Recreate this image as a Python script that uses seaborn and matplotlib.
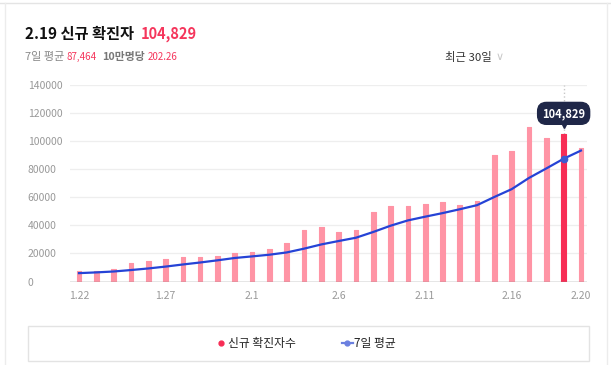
import numpy as np
import pandas as pd
import matplotlib
matplotlib.use('Agg')
import matplotlib.pyplot as plt
import matplotlib.transforms as mtransforms
from matplotlib.lines import Line2D
from matplotlib.patches import Rectangle
import seaborn as sns

# ── Data ───────────────────────────────────────────────────────────────────────
dates = ['1.22', '1.23', '1.24', '1.25', '1.26', '1.27', '1.28', '1.29', '1.30', '1.31',
         '2.1', '2.2', '2.3', '2.4', '2.5', '2.6', '2.7', '2.8', '2.9', '2.10',
         '2.11', '2.12', '2.13', '2.14', '2.15', '2.16', '2.17', '2.18', '2.19', '2.20']
new_cases = [7630, 7513, 8571, 13012, 14518, 16096, 17542, 17532, 18342, 20270,
             20908, 22907, 27443, 36362, 38689, 35286, 36719, 49567, 54122, 53926,
             54941, 56431, 54619, 57177, 90443, 93135, 109831, 102211, 104829, 95362]
avg_7d = [5963, 6486, 7129, 8158, 9289, 10621, 12126, 13541, 15088, 16759,
          17887, 19085, 20706, 23395, 26417, 28838, 31188, 35282, 39741, 43524,
          46179, 48713, 51475, 54398, 60237, 65810, 73797, 80550, 87464, 93284]
tick_dates = ['1.22', '1.27', '2.1', '2.6', '2.11', '2.16', '2.20']
y_ticks = [0, 20000, 40000, 60000, 80000, 100000, 120000, 140000]
sel_date = '2.19'

PINK = '#ff94a5'
RED = '#f72d55'
BLUE = '#2543d6'
NAVY = '#1f2748'
TXT_RED = '#f5365c'
GRAY = '#999999'

W, H = 611, 365
plt.rcParams['font.family'] = ['Noto Sans CJK KR', 'DejaVu Sans']

df = pd.DataFrame({'date': dates, 'cases': new_cases, 'avg': avg_7d})
df['pos'] = np.arange(len(df))
sel = dates.index(sel_date)

fig = plt.figure(figsize=(W / 100, H / 100), dpi=100)
ax = fig.add_axes([70 / W, 1 - 281.5 / H, 517 / W, 196.5 / H])

# bars
pal = {d: (RED if d == sel_date else PINK) for d in dates}
sns.barplot(data=df, x='date', y='cases', hue='date', order=dates, hue_order=dates,
            palette=pal, width=0.27, legend=False, saturation=1, ax=ax, zorder=2)
for p in ax.patches:
    p.set_edgecolor(p.get_facecolor())
    p.set_linewidth(0.8)
    p.set_joinstyle('round')

# 7-day average line
sns.lineplot(data=df, x='pos', y='avg', color=BLUE, linewidth=1.6, ax=ax, zorder=4)
ax.plot(sel, avg_7d[sel], 'o', color='#3d5bd0', markersize=4.5, zorder=5)

# hover guide + tooltip
ax.axvline(sel, ymin=new_cases[sel] / 140000, ymax=1, color='#c8c8c8',
           linestyle=':', linewidth=1, zorder=1)
ax.annotate(f'{new_cases[sel]:,}', xy=(sel, new_cases[sel]), xytext=(0, 21),
            textcoords='offset pixels', ha='center', va='center', color='white',
            fontsize=8, fontweight='bold', zorder=10,
            bbox=dict(boxstyle='round,pad=0.4,rounding_size=0.8', fc=NAVY, ec=NAVY))
tri = mtransforms.offset_copy(ax.transData, fig=fig, x=0, y=9, units='dots')
ax.plot(sel, new_cases[sel], marker='v', color=NAVY, markersize=5, transform=tri,
        clip_on=False, zorder=10)

# axes styling
ax.set_xlim(-0.52, 29.35)
ax.set_ylim(0, 140000)
ax.set_yticks(y_ticks)
ax.set_yticklabels([str(v) for v in y_ticks])
for lab in ax.get_yticklabels():
    lab.set_ha('left')
ax.set_xticks([dates.index(d) for d in tick_dates])
ax.set_xticklabels(tick_dates)
ax.tick_params(axis='y', length=0, pad=30.5, labelsize=7.5, labelcolor=GRAY)
ax.tick_params(axis='x', length=0, pad=6.5, labelsize=7.5, labelcolor=GRAY)
ax.grid(axis='y', color='#eeeeee', linewidth=0.9, zorder=0)
ax.set_axisbelow(True)
ax.axhline(0, color='#8c8c8c', linewidth=1, zorder=3)
for s in ax.spines.values():
    s.set_visible(False)
ax.set_xlabel('')
ax.set_ylabel('')

# card border
fig.add_artist(Line2D([0, 1], [1 - 3 / H, 1 - 3 / H], color='#e4e4e4', lw=1))
fig.add_artist(Line2D([5 / W, 5 / W], [0, 1 - 3 / H], color='#ececec', lw=1))
fig.add_artist(Line2D([607 / W, 607 / W], [0, 1 - 3 / H], color='#ececec', lw=1))

# legend box
fig.add_artist(Rectangle((28 / W, 1 - 361 / H), 561 / W, 35 / H, transform=fig.transFigure,
                         fill=False, edgecolor='#e3e3e3', linewidth=1))
handles = [Line2D([], [], marker='o', color=RED, linestyle='none', markersize=3.5),
           Line2D([], [], marker='o', color='#6b80e0', linewidth=1.6, markersize=3.5)]
fig.legend(handles, ['신규 확진자수', '7일 평균'], loc='center', ncol=2,
           bbox_to_anchor=(306 / W, 1 - 344 / H), frameon=False, fontsize=8.5,
           handlelength=0.9, handletextpad=0.15, columnspacing=3.9,
           labelcolor='#222222')

# header texts, chained left to right
fig.canvas.draw()
rend = fig.canvas.get_renderer()


def run(x, y, parts):
    for txt, color, weight, size, gap in parts:
        t = fig.text(x / W, 1 - y / H, txt, color=color, fontweight=weight,
                     fontsize=size, va='center', ha='left')
        x = t.get_window_extent(rend).x1 + gap


run(25, 33.5, [('2.19 신규 확진자', '#111111', 'bold', 11, 7),
               ('104,829', TXT_RED, 'bold', 10.5, 0)])
run(25, 57, [('7일 평균', '#888888', 'normal', 8, 2),
             ('87,464', TXT_RED, 'normal', 7, 6),
             ('10만명당', '#777777', 'bold', 7.8, 2),
             ('202.26', TXT_RED, 'normal', 7, 0)])
fig.text(445 / W, 1 - 57 / H, '최근 30일', color='#333333', fontsize=8.2,
         va='center', ha='left')
fig.text(500 / W, 1 - 57 / H, '∨', color='#c8c8c8', fontsize=8,
         va='center', ha='center', family=['DejaVu Sans'])

fig.savefig('out.png', dpi=100)
